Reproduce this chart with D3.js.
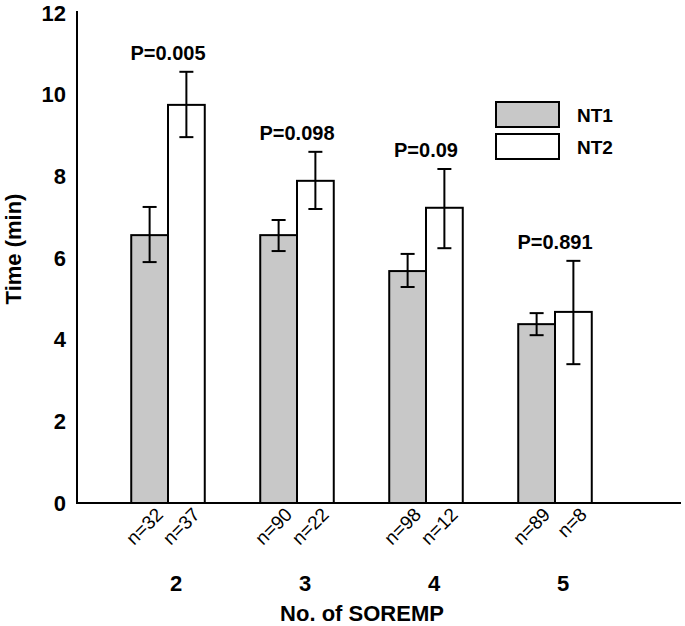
<!DOCTYPE html>
<html lang="en">
<head>
    <meta charset="UTF-8">
    <title>Time by No. of SOREMP</title>
    <script src="https://d3js.org/d3.v7.min.js"></script>
    <style>
        body {
            margin: 0;
            padding: 0;
            background-color: #fff;
        }
        svg text {
            font-family: "Liberation Sans", Arial, sans-serif;
            fill: #000;
        }
        .bold { font-weight: bold; }
    </style>
</head>
<body>
    <svg width="685" height="626"></svg>

    <script>
        const categories = ["2", "3", "4", "5"];
        const seriesNames = ["NT1", "NT2"];
        const nt1Mean = [6.56, 6.56, 5.68, 4.38];
        const nt1Lower = [5.90, 6.17, 5.29, 4.11];
        const nt1Upper = [7.25, 6.93, 6.10, 4.65];
        const nt2Mean = [9.75, 7.89, 7.23, 4.68];
        const nt2Lower = [8.96, 7.20, 6.24, 3.40];
        const nt2Upper = [10.56, 8.60, 8.18, 5.93];
        const nt1Counts = ["n=32", "n=90", "n=98", "n=89"];
        const nt2Counts = ["n=37", "n=22", "n=12", "n=8"];
        const pValues = ["P=0.005", "P=0.098", "P=0.09", "P=0.891"];
        const yTicks = [0, 2, 4, 6, 8, 10, 12];
        const colors = { NT1: "#c8c8c8", NT2: "#ffffff" };

        const svg = d3.select("svg");

        const y = d3.scaleLinear().domain([0, 12]).range([503, 13]);
        const x0 = d3.scaleBand().domain(categories)
            .range([103.5, 619.5])
            .paddingInner(0.43)
            .paddingOuter(0.215);
        const x1 = d3.scaleBand().domain(seriesNames).range([0, x0.bandwidth()]);

        // rows per bar
        const bars = [];
        categories.forEach((c, i) => {
            bars.push({ cat: c, s: "NT1", v: nt1Mean[i], lo: nt1Lower[i], hi: nt1Upper[i], n: nt1Counts[i] });
            bars.push({ cat: c, s: "NT2", v: nt2Mean[i], lo: nt2Lower[i], hi: nt2Upper[i], n: nt2Counts[i] });
        });
        const cx = d => x0(d.cat) + x1(d.s) + x1.bandwidth() / 2;

        // axes
        svg.append("line")
            .attr("x1", 77).attr("x2", 77)
            .attr("y1", y(12) - 2).attr("y2", y(0))
            .attr("stroke", "#000").attr("stroke-width", 2);

        svg.selectAll(".ytick")
            .data(yTicks)
            .enter().append("text")
            .attr("class", "bold")
            .attr("x", 66)
            .attr("y", d => y(d))
            .attr("dy", "0.35em")
            .attr("text-anchor", "end")
            .style("font-size", "22px")
            .text(d => d);

        // bars
        svg.selectAll(".bar")
            .data(bars)
            .enter().append("rect")
            .attr("x", d => x0(d.cat) + x1(d.s))
            .attr("y", d => y(d.v))
            .attr("width", x1.bandwidth())
            .attr("height", d => y(0) - y(d.v))
            .attr("fill", d => colors[d.s])
            .attr("stroke", "#000")
            .attr("stroke-width", 2);

        svg.append("line")
            .attr("x1", 76).attr("x2", 681)
            .attr("y1", y(0)).attr("y2", y(0))
            .attr("stroke", "#000").attr("stroke-width", 2);

        // error bars
        const err = svg.selectAll(".err")
            .data(bars)
            .enter().append("g")
            .attr("stroke", "#000")
            .attr("stroke-width", 2);
        err.append("line")
            .attr("x1", cx).attr("x2", cx)
            .attr("y1", d => y(d.lo)).attr("y2", d => y(d.hi));
        err.append("line")
            .attr("x1", d => cx(d) - 7).attr("x2", d => cx(d) + 7)
            .attr("y1", d => y(d.hi)).attr("y2", d => y(d.hi));
        err.append("line")
            .attr("x1", d => cx(d) - 7).attr("x2", d => cx(d) + 7)
            .attr("y1", d => y(d.lo)).attr("y2", d => y(d.lo));

        // p values
        svg.selectAll(".pval")
            .data(categories)
            .enter().append("text")
            .attr("class", "bold")
            .attr("x", d => x0(d) + x0.bandwidth() / 2)
            .attr("y", (d, i) => y(Math.max(nt1Upper[i], nt2Upper[i])) - 12)
            .attr("text-anchor", "middle")
            .style("font-size", "20px")
            .text((d, i) => pValues[i]);

        // n labels
        svg.selectAll(".nlab")
            .data(bars)
            .enter().append("text")
            .attr("transform", d => `translate(${cx(d) + 10},${y(0) + 8}) rotate(-45)`)
            .attr("text-anchor", "end")
            .attr("dy", "0.35em")
            .style("font-size", "19px")
            .text(d => d.n);

        // category labels
        svg.selectAll(".cat")
            .data(categories)
            .enter().append("text")
            .attr("class", "bold")
            .attr("x", d => x0(d) + x0.bandwidth() / 2 + 8)
            .attr("y", 583)
            .attr("dy", "0.35em")
            .attr("text-anchor", "middle")
            .style("font-size", "22px")
            .text(d => d);

        svg.append("text")
            .attr("class", "bold")
            .attr("x", 362).attr("y", 613)
            .attr("dy", "0.35em")
            .attr("text-anchor", "middle")
            .style("font-size", "22px")
            .text("No. of SOREMP");

        svg.append("text")
            .attr("class", "bold")
            .attr("transform", "translate(13,249) rotate(-90)")
            .attr("dy", "0.35em")
            .attr("text-anchor", "middle")
            .style("font-size", "22px")
            .text("Time (min)");

        // legend
        const legend = svg.selectAll(".legend")
            .data(seriesNames)
            .enter().append("g")
            .attr("transform", (d, i) => `translate(496,${102 + i * 32})`);
        legend.append("rect")
            .attr("width", 63).attr("height", 25)
            .attr("fill", d => colors[d])
            .attr("stroke", "#000")
            .attr("stroke-width", 2);
        legend.append("text")
            .attr("class", "bold")
            .attr("x", 81).attr("y", 13)
            .attr("dy", "0.35em")
            .style("font-size", "19px")
            .text(d => d);
    </script>
</body>
</html>
